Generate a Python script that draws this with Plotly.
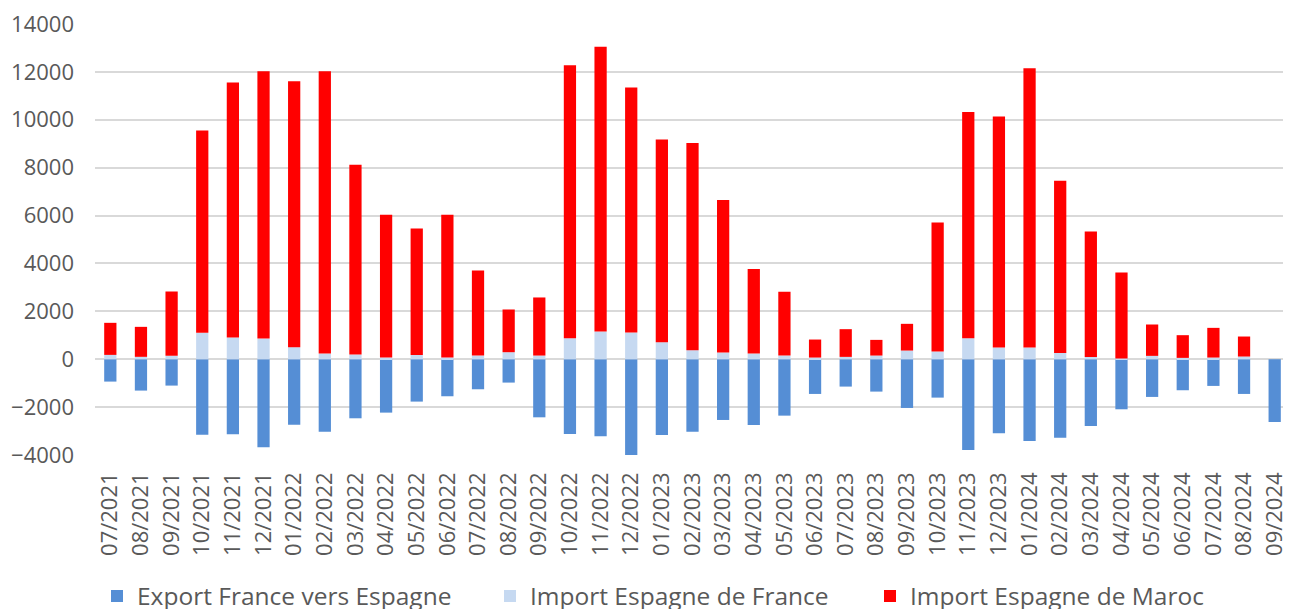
import plotly.graph_objects as go

months = ["07/2021", "08/2021", "09/2021", "10/2021", "11/2021", "12/2021",
          "01/2022", "02/2022", "03/2022", "04/2022", "05/2022", "06/2022",
          "07/2022", "08/2022", "09/2022", "10/2022", "11/2022", "12/2022",
          "01/2023", "02/2023", "03/2023", "04/2023", "05/2023", "06/2023",
          "07/2023", "08/2023", "09/2023", "10/2023", "11/2023", "12/2023",
          "01/2024", "02/2024", "03/2024", "04/2024", "05/2024", "06/2024",
          "07/2024", "08/2024", "09/2024"]

export_france_vers_espagne = [-934, -1310, -1101, -3150, -3137, -3680,
                              -2732, -3025, -2467, -2230, -1770, -1547,
                              -1255, -976, -2426, -3123, -3220, -4057,
                              -3165, -3025, -2537, -2746, -2356, -1450,
                              -1143, -1352, -2035, -1603, -3792, -3095,
                              -3415, -3276, -2788, -2091, -1575, -1296,
                              -1115, -1450, -2621]

import_espagne_de_france = [181, 100, 140, 1101, 906, 864,
                            502, 237, 195, 70, 181, 70,
                            153, 293, 153, 878, 1157, 1115,
                            711, 376, 279, 237, 153, 70,
                            98, 153, 362, 321, 878, 488,
                            488, 265, 98, 28, 140, 56,
                            70, 112, 0]

# top of stacked bar (France + Maroc)
total_import_top = [1520, 1352, 2830, 9549, 11556, 12030,
                    11612, 12030, 8127, 6036, 5464, 6036,
                    3708, 2077, 2579, 12281, 13048, 11347,
                    9173, 9033, 6650, 3764, 2816, 822,
                    1255, 808, 1478, 5715, 10330, 10134,
                    12156, 7458, 5339, 3624, 1450, 1004,
                    1310, 948, 0]

import_espagne_de_maroc = [t - f for t, f in zip(total_import_top, import_espagne_de_france)]

font_family = "Open Sans, Lato, sans-serif"
tick_color = "#595959"
# page body has an 8px margin: figure is sized so it fits the 1291x609 window
OFF = 8
W, H = 1291 - OFF, 609 - OFF

fig = go.Figure()
fig.add_trace(go.Bar(x=months, y=export_france_vers_espagne,
                     name="Export France vers Espagne", legend="legend",
                     marker=dict(color="#558ed5", line=dict(width=0))))
fig.add_trace(go.Bar(x=months, y=import_espagne_de_france,
                     name="Import Espagne de France", legend="legend2",
                     marker=dict(color="#c6d9f1", line=dict(width=0))))
fig.add_trace(go.Bar(x=months, y=import_espagne_de_maroc,
                     name="Import Espagne de Maroc", legend="legend3",
                     marker=dict(color="#ff0000", line=dict(width=0))))

def leg(text_x):
    return dict(xref="container", yref="container",
                x=(text_x - OFF - 42) / W, xanchor="left",
                y=(609 - 596) / H, yanchor="middle",
                orientation="h", bgcolor="rgba(0,0,0,0)",
                font=dict(size=24.5, color=tick_color, family=font_family))

fig.update_layout(
    barmode="relative",
    bargap=0.6,
    width=W, height=H,
    margin=dict(l=95 - OFF, r=1, t=24 - OFF, b=154, autoexpand=False),
    paper_bgcolor="white", plot_bgcolor="white",
    font=dict(family=font_family, color=tick_color, size=22),
    showlegend=True,
    legend=leg(139),
    legend2=leg(532),
    legend3=leg(912),
)
fig.update_xaxes(type="category", tickangle=-90, showgrid=False, showline=False,
                 automargin=False, ticks="", ticklabeloverflow="allow",
                 tickfont=dict(size=22, color=tick_color), ticklabelstandoff=12)
fig.update_yaxes(range=[-4000, 14000], dtick=2000, tick0=0, tickformat="d",
                 showgrid=True, automargin=False, ticklabeloverflow="allow",
                 gridcolor="#d9d9d9", gridwidth=1.5, zeroline=True,
                 zerolinecolor="#d9d9d9", zerolinewidth=1.5, showline=False,
                 ticks="", tickfont=dict(size=22, color=tick_color), ticklabelstandoff=20)

fig.write_html("out.html")
